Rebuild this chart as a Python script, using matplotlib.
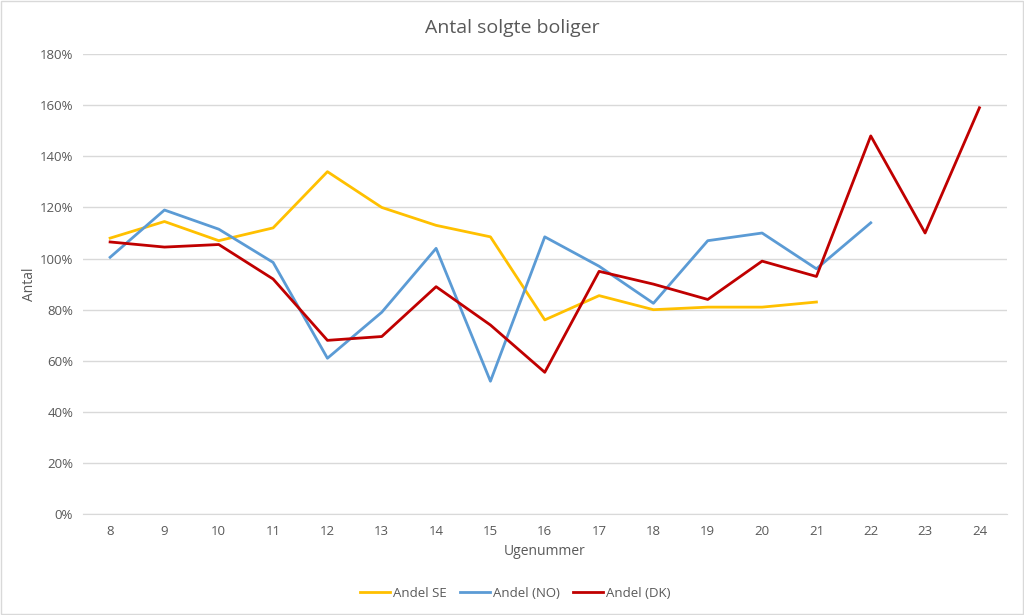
import numpy as np
import matplotlib.pyplot as plt
from matplotlib.ticker import PercentFormatter

plt.rcParams['font.family'] = ['Open Sans', 'DejaVu Sans']

# Data (andel i procent)
uger = list(range(8, 25))
andel_se = [108, 114.5, 107, 112, 134, 120, 113, 108.5, 76, 85.5, 80, 81, 81, 83]
andel_no = [100.5, 119, 111.5, 98.5, 61, 79, 104, 52, 108.5, 97, 82.5, 107, 110, 96, 114]
andel_dk = [106.5, 104.5, 105.5, 92, 68, 69.5, 89, 74, 55.5, 95, 90, 84, 99, 93, 148, 110, 159]

txt = '#595959'
fig = plt.figure(figsize=(10.24, 6.15), dpi=100)
ax = fig.add_axes([0.081, 0.164, 0.902, 0.748])

ax.plot(uger[:len(andel_se)], andel_se, color='#FFC000', lw=2, label='Andel SE')
ax.plot(uger[:len(andel_no)], andel_no, color='#5B9BD5', lw=2, label='Andel (NO)')
ax.plot(uger[:len(andel_dk)], andel_dk, color='#C00000', lw=2, label='Andel (DK)')

ax.set_xlim(7.5, 24.5)
ax.set_ylim(0, 180)
ax.set_xticks(uger)
ax.set_yticks(np.arange(0, 181, 20))
ax.yaxis.set_major_formatter(PercentFormatter(decimals=0))
ax.grid(axis='y', color='#D9D9D9', lw=1)
ax.set_axisbelow(True)
for s in ['top', 'right', 'left']:
    ax.spines[s].set_visible(False)
ax.spines['bottom'].set_color('#D9D9D9')
ax.tick_params(axis='both', length=0, colors=txt, labelsize=9.5)
ax.tick_params(axis='x', pad=8)
ax.tick_params(axis='y', pad=7)

fig.text(0.5, 0.955, 'Antal solgte boliger', fontsize=14, color=txt, ha='center', va='center')
ax.set_xlabel('Ugenummer', fontsize=10, color=txt, labelpad=4)
ax.set_ylabel('Antal', fontsize=10, color=txt, labelpad=2)

fig.legend(loc='lower center', bbox_to_anchor=(0.503, 0.005), ncol=3, frameon=False,
           fontsize=9.5, labelcolor=txt, handlelength=2.3, columnspacing=1.0, handletextpad=0.2)

fig.patches.append(plt.Rectangle((0.001, 0.001), 0.998, 0.998, transform=fig.transFigure,
                                 fill=False, edgecolor='#D9D9D9', lw=1))
fig.savefig('out.png', dpi=100)
